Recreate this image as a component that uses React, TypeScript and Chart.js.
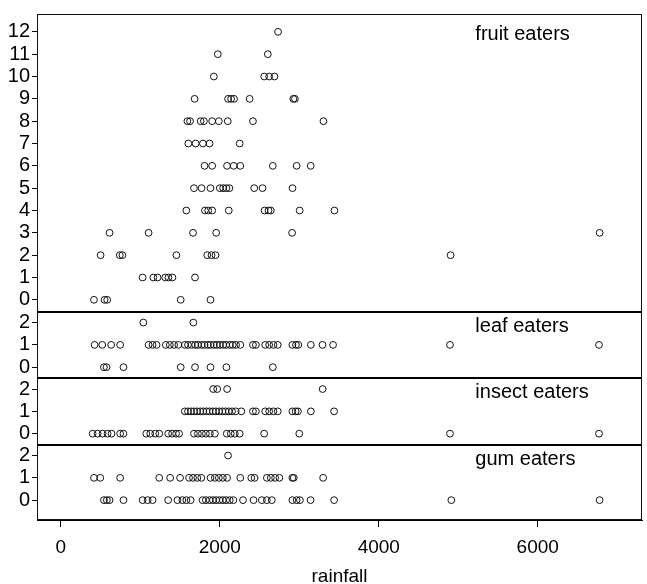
import React, { useEffect, useRef } from "react";
import { Chart, registerables } from "chart.js";

Chart.register(...registerables);

// ---- data (rainfall values of sites, grouped by number of species) ----
const xTicks = [0, 2000, 4000, 6000];
const fruitTicks = [0, 1, 2, 3, 4, 5, 6, 7, 8, 9, 10, 11, 12];
const smallTicks = [0, 1, 2];
const panelNames = ["fruit eaters", "leaf eaters", "insect eaters", "gum eaters"];
const xLabel = "rainfall";

// index = number of species
const fruitRain: number[][] = [
  [417, 550, 583, 1508, 1883],
  [1029, 1163, 1217, 1313, 1354, 1404, 1688],
  [500, 742, 775, 1454, 1842, 1896, 1946, 4904],
  [613, 1104, 1663, 1954, 2910, 6779],
  [1579, 1813, 1854, 1904, 2113, 2563, 2613, 2642, 3005, 3442],
  [1675, 1771, 1883, 2000, 2042, 2083, 2121, 2433, 2538, 2915],
  [1808, 1904, 2091, 2175, 2258, 2667, 2967, 3144],
  [1604, 1696, 1788, 1871, 2250],
  [1592, 1625, 1758, 1800, 1904, 1988, 2100, 2417, 3304],
  [1683, 2104, 2142, 2179, 2375, 2925, 2945],
  [1925, 2558, 2621, 2688],
  [1975, 2604],
  [2733],
];

const leafRain: number[][] = [
  [542, 575, 788, 1508, 1688, 1883, 2083, 2667],
  [425, 521, 633, 746, 1104, 1154, 1204, 1321, 1371, 1425, 1479, 1560, 1600, 1645, 1690,
   1725, 1770, 1808, 1850, 1883, 1925, 1963, 2000, 2042, 2079, 2125, 2163, 2204, 2258,
   2417, 2454, 2571, 2621, 2675, 2729, 2913, 2958, 2988, 3146, 3292, 3425, 4896, 6771],
  [1038, 1667],
];

const insectRain: number[][] = [
  [400, 463, 525, 588, 638, 746, 788, 1075, 1125, 1188, 1238, 1350, 1400, 1450, 1488,
   1675, 1725, 1775, 1825, 1875, 1938, 2088, 2138, 2188, 2250, 2558, 3000, 4896, 6771],
  [1560, 1600, 1638, 1675, 1713, 1754, 1792, 1833, 1871, 1913, 1950, 1992, 2033, 2071,
   2113, 2154, 2200, 2271, 2417, 2454, 2571, 2621, 2675, 2729, 2913, 2954, 2983, 3146, 3438],
  [1917, 1967, 2092, 3294],
];

const gumRain: number[][] = [
  [542, 579, 613, 788, 1029, 1092, 1154, 1350, 1467, 1529, 1579, 1633, 1783, 1825, 1871,
   1913, 1954, 1996, 2038, 2079, 2125, 2171, 2292, 2425, 2529, 2592, 2654, 2913, 2967,
   3008, 3142, 3438, 4913, 6779],
  [417, 496, 746, 1238, 1375, 1500, 1613, 1663, 1717, 1767, 1883, 1938, 1988, 2038, 2092,
   2258, 2396, 2438, 2592, 2642, 2696, 2750, 2913, 2930, 3300],
  [2104],
];

const FONT = "'Liberation Sans', Arial, Helvetica, sans-serif";

function toPoints(byCount: number[][]) {
  const pts: { x: number; y: number }[] = [];
  byCount.forEach((xs, c) => xs.forEach((x) => pts.push({ x, y: c })));
  return pts;
}

function yScale(ticks: number[], min: number, max: number, weight: number) {
  return {
    type: "linear" as const,
    position: "left" as const,
    stack: "panels",
    stackWeight: weight,
    min,
    max,
    afterBuildTicks: (s: any) => {
      s.ticks = ticks.map((v) => ({ value: v }));
    },
    afterFit: (s: any) => {
      s.width = 37;
    },
    grid: {
      display: true,
      drawOnChartArea: false,
      drawTicks: true,
      tickLength: 5,
      color: "#000",
      lineWidth: 1,
    },
    border: { display: true, color: "#000", width: 1 },
    ticks: {
      color: "#000",
      font: { family: FONT, size: 20 },
      padding: 2,
      autoSkip: false,
      callback: (v: any) => String(v),
    },
  };
}

const framePlugin = {
  id: "frame",
  afterDraw(chart: any) {
    const { ctx, chartArea, scales } = chart;
    ctx.save();
    ctx.strokeStyle = "#111";
    ctx.lineWidth = 1;
    ctx.strokeRect(chartArea.left + 0.5, chartArea.top + 0.5, chartArea.width - 1, chartArea.height - 1);
    ctx.lineWidth = 2;
    ctx.strokeStyle = "#000";
    for (const id of ["yF", "yL", "yI"]) {
      const y = Math.round(scales[id].bottom);
      ctx.beginPath();
      ctx.moveTo(chartArea.left, y);
      ctx.lineTo(chartArea.right, y);
      ctx.stroke();
    }
    ctx.fillStyle = "#000";
    ctx.font = `20px ${FONT}`;
    ctx.textAlign = "left";
    ctx.textBaseline = "alphabetic";
    const xl = scales.x.getPixelForValue(5215);
    const ids = ["yF", "yL", "yI", "yG"];
    const vals = [11.65, 1.6, 1.6, 1.56];
    ids.forEach((id, i) => {
      ctx.fillText(panelNames[i], xl, scales[id].getPixelForValue(vals[i]));
    });
    ctx.restore();
  },
};

export default function App() {
  const ref = useRef<HTMLCanvasElement | null>(null);
  useEffect(() => {
    if (!ref.current) return;
    const pointStyle = {
      showLine: false,
      pointRadius: 3.4,
      pointBorderWidth: 1,
      pointBorderColor: "#111",
      pointBackgroundColor: "rgba(0,0,0,0)",
      borderColor: "#111",
      backgroundColor: "rgba(0,0,0,0)",
    };
    const chart = new Chart(ref.current, {
      type: "scatter",
      data: {
        datasets: [
          { label: panelNames[0], data: toPoints(fruitRain), yAxisID: "yF", ...pointStyle },
          { label: panelNames[1], data: toPoints(leafRain), yAxisID: "yL", ...pointStyle },
          { label: panelNames[2], data: toPoints(insectRain), yAxisID: "yI", ...pointStyle },
          { label: panelNames[3], data: toPoints(gumRain), yAxisID: "yG", ...pointStyle },
        ],
      },
      options: {
        animation: false,
        responsive: true,
        maintainAspectRatio: false,
        layout: { padding: { left: 0, right: 1, top: 10, bottom: 0 } },
        plugins: { legend: { display: false }, tooltip: { enabled: false } },
        scales: {
          x: {
            type: "linear",
            position: "bottom",
            min: -300,
            max: 7312,
            afterBuildTicks: (s: any) => {
              s.ticks = xTicks.map((v) => ({ value: v }));
            },
            afterFit: (s: any) => {
              s.height = 64;
            },
            grid: {
              display: true,
              drawOnChartArea: false,
              drawTicks: true,
              tickLength: 7,
              color: "#000",
            },
            border: { display: true, color: "#000", width: 1 },
            ticks: {
              color: "#000",
              font: { family: FONT, size: 19 },
              padding: 9,
              maxRotation: 0,
              autoSkip: false,
              callback: (v: any) => String(v),
            },
            title: {
              display: true,
              text: xLabel,
              color: "#000",
              font: { family: FONT, size: 19 },
              padding: { top: 0, bottom: -4 },
            },
          },
          yG: yScale(smallTicks, -0.89, 2.49, 76),
          yI: yScale(smallTicks, -0.49, 2.49, 67),
          yL: yScale(smallTicks, -0.49, 2.49, 67),
          yF: yScale(fruitTicks, -0.53, 12.8, 300),
        },
      } as any,
      plugins: [framePlugin],
    });
    return () => chart.destroy();
  }, []);
  return (
    <div style={{ position: "absolute", left: 0, top: 0, width: 647, height: 584, background: "#fff" }}>
      <canvas ref={ref} />
    </div>
  );
}
